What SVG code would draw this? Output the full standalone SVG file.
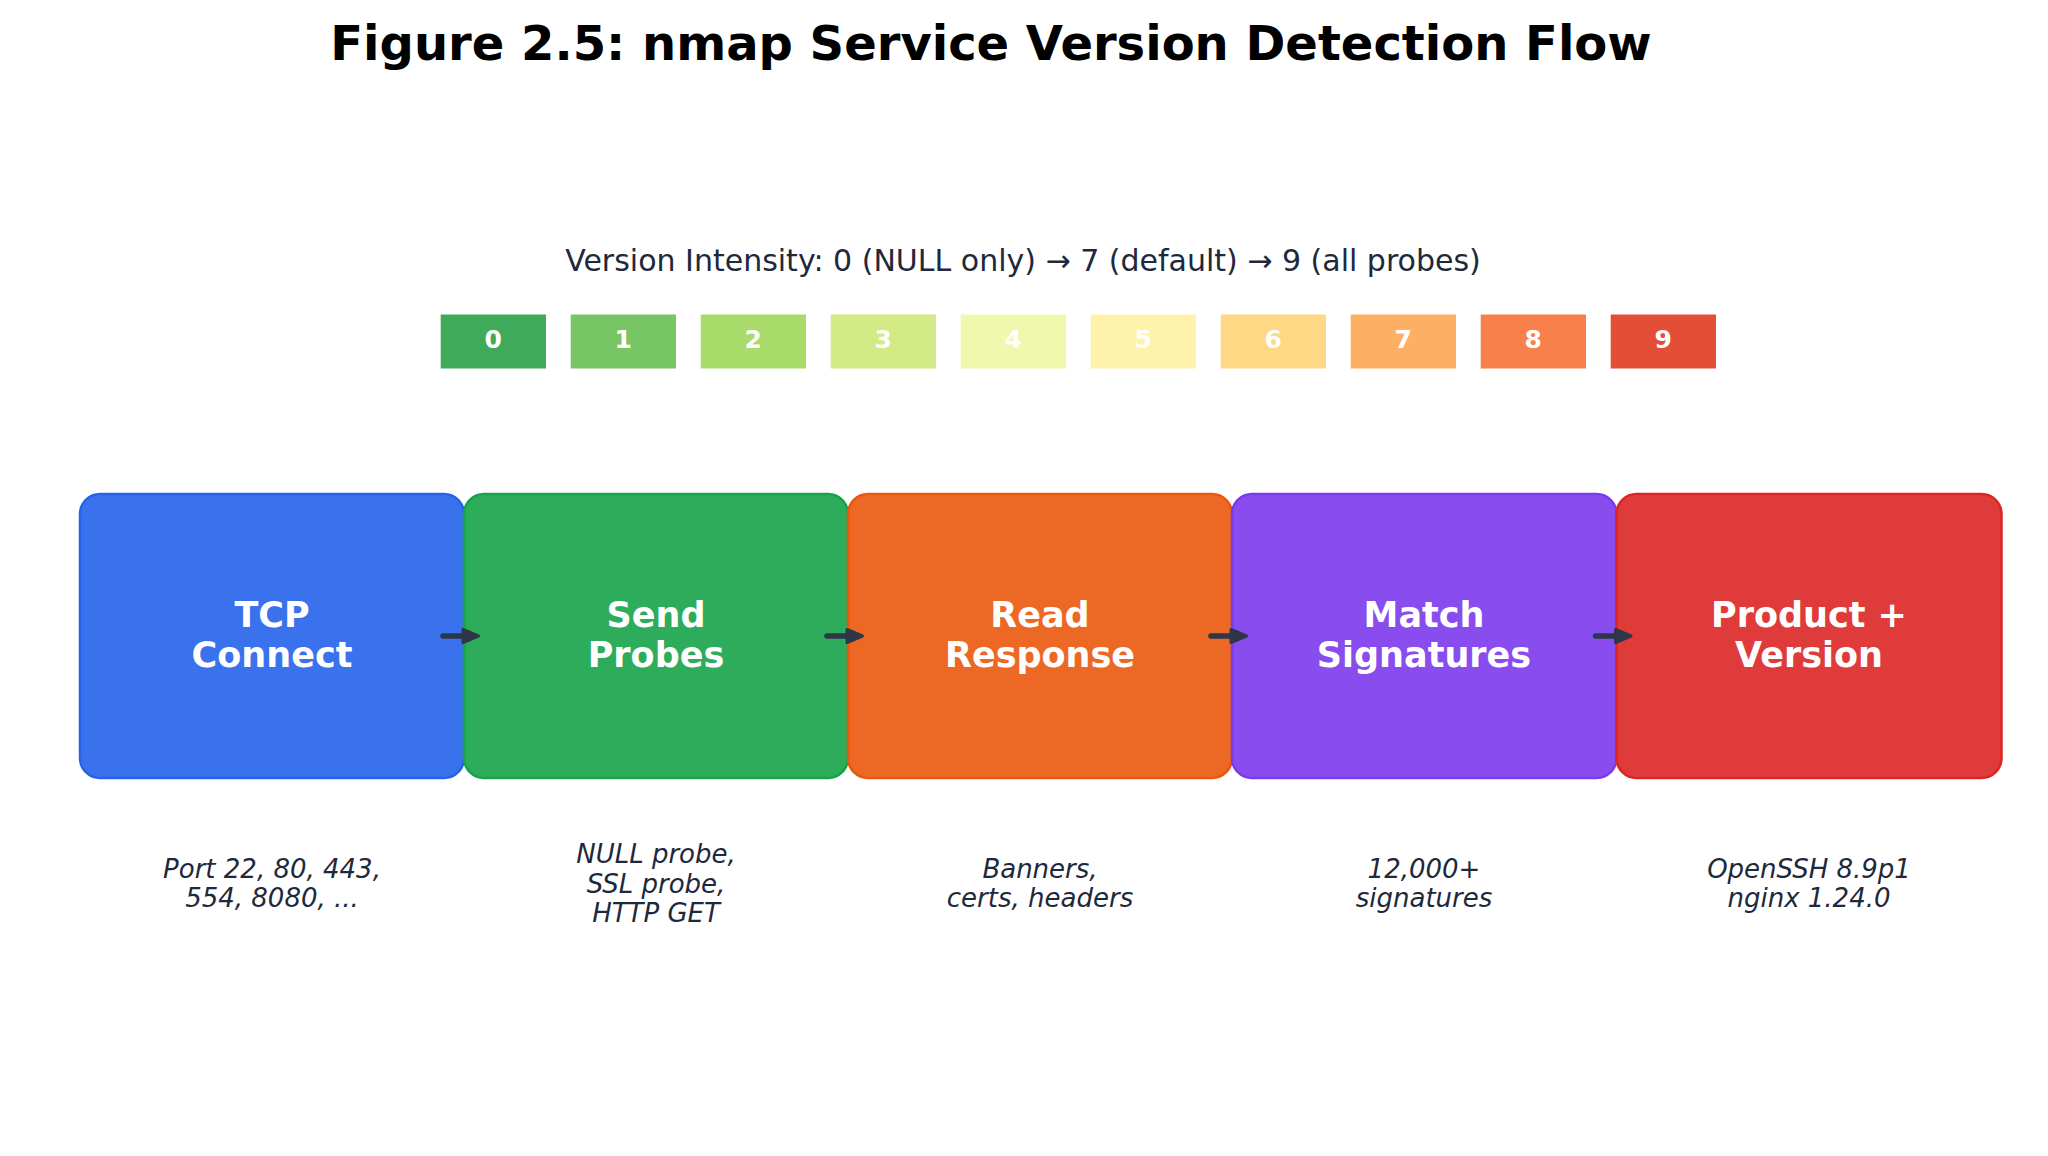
<svg xmlns="http://www.w3.org/2000/svg" width="2048" height="1156" viewBox="0 0 2048 1156">
<defs>
<style>
.title{font-family:"DejaVu Sans",sans-serif;font-weight:bold;font-size:48px;fill:#000;text-anchor:middle}
.sub{font-family:"DejaVu Sans",sans-serif;font-size:30px;fill:#1e293b;text-anchor:middle}
.lvl{font-family:"DejaVu Sans",sans-serif;font-weight:bold;font-size:25px;fill:#fff;text-anchor:middle}
.lbl{font-family:"DejaVu Sans",sans-serif;font-weight:bold;font-size:35px;fill:#fff;text-anchor:middle}
.desc{font-family:"DejaVu Sans",sans-serif;font-style:italic;font-size:26px;fill:#1e293b;text-anchor:middle}
.box{stroke-width:2.5;fill-opacity:0.9}
.arr{stroke:#2d3748;stroke-width:5.5;stroke-linecap:round;fill:none}
.head{fill:#2d3748;stroke:#2d3748;stroke-width:3;stroke-linejoin:round}
</style>
</defs>
<rect width="2048" height="1156" fill="#fff"/>
<text class="title" x="991" y="60">Figure 2.5: nmap Service Version Detection Flow</text>
<text class="sub" x="1023" y="271">Version Intensity: 0 (NULL only) → 7 (default) → 9 (all probes)</text>
<g id="intensity">
<rect x="440.7" y="314.5" width="105.3" height="54" fill="#3fab5a"/><text class="lvl" x="493.3" y="348">0</text>
<rect x="570.7" y="314.5" width="105.3" height="54" fill="#78c565"/><text class="lvl" x="623.3" y="348">1</text>
<rect x="700.7" y="314.5" width="105.3" height="54" fill="#a9db6b"/><text class="lvl" x="753.3" y="348">2</text>
<rect x="830.7" y="314.5" width="105.3" height="54" fill="#d3ea86"/><text class="lvl" x="883.3" y="348">3</text>
<rect x="960.7" y="314.5" width="105.3" height="54" fill="#eff8ac"/><text class="lvl" x="1013.3" y="348">4</text>
<rect x="1090.7" y="314.5" width="105.3" height="54" fill="#fff2aa"/><text class="lvl" x="1143.3" y="348">5</text>
<rect x="1220.7" y="314.5" width="105.3" height="54" fill="#fed884"/><text class="lvl" x="1273.3" y="348">6</text>
<rect x="1350.7" y="314.5" width="105.3" height="54" fill="#fdb063"/><text class="lvl" x="1403.3" y="348">7</text>
<rect x="1480.7" y="314.5" width="105.3" height="54" fill="#f7804b"/><text class="lvl" x="1533.3" y="348">8</text>
<rect x="1610.7" y="314.5" width="105.3" height="54" fill="#e34f36"/><text class="lvl" x="1663.3" y="348">9</text>
</g>
<g id="node-tcp">
<rect class="box" x="80" y="494" width="384" height="284" rx="20" fill="#2563eb" stroke="#2563eb"/>
<text class="lbl" x="272" y="626.7">TCP</text><text class="lbl" x="272" y="666.7">Connect</text>
<text class="desc" x="272" y="877.5">Port 22, 80, 443,</text><text class="desc" x="272" y="907">554, 8080, ...</text>
</g>
<g id="node-probes">
<rect class="box" x="464" y="494" width="384" height="284" rx="20" fill="#16a34a" stroke="#16a34a"/>
<text class="lbl" x="656" y="626.7">Send</text><text class="lbl" x="656" y="666.7">Probes</text>
<text class="desc" x="656" y="862.5">NULL probe,</text><text class="desc" x="656" y="892.5">SSL probe,</text><text class="desc" x="656" y="921.7">HTTP GET</text>
</g>
<g id="node-response">
<rect class="box" x="848" y="494" width="384" height="284" rx="20" fill="#ea580c" stroke="#ea580c"/>
<text class="lbl" x="1040" y="626.7">Read</text><text class="lbl" x="1040" y="666.7">Response</text>
<text class="desc" x="1040" y="877.5">Banners,</text><text class="desc" x="1040" y="907">certs, headers</text>
</g>
<g id="node-match">
<rect class="box" x="1232" y="494" width="384.5" height="284" rx="20" fill="#7c3aed" stroke="#7c3aed"/>
<text class="lbl" x="1424" y="626.7">Match</text><text class="lbl" x="1424" y="666.7">Signatures</text>
<text class="desc" x="1424" y="877.5">12,000+</text><text class="desc" x="1424" y="907">signatures</text>
</g>
<g id="node-product">
<rect class="box" x="1616.5" y="494" width="385" height="284" rx="20" fill="#dc2626" stroke="#dc2626"/>
<text class="lbl" x="1809" y="626.7">Product +</text><text class="lbl" x="1809" y="666.7">Version</text>
<text class="desc" x="1809" y="877.5">OpenSSH 8.9p1</text><text class="desc" x="1809" y="907">nginx 1.24.0</text>
</g>
<g id="connectors">
<line class="arr" x1="443" y1="636" x2="464" y2="636"/><polygon class="head" points="463,629.5 478.5,636 463,642.5"/>
<line class="arr" x1="827" y1="636" x2="848" y2="636"/><polygon class="head" points="847,629.5 862.5,636 847,642.5"/>
<line class="arr" x1="1211" y1="636" x2="1232" y2="636"/><polygon class="head" points="1231,629.5 1246.5,636 1231,642.5"/>
<line class="arr" x1="1595.5" y1="636" x2="1616.5" y2="636"/><polygon class="head" points="1615.5,629.5 1631,636 1615.5,642.5"/>
</g>
</svg>
